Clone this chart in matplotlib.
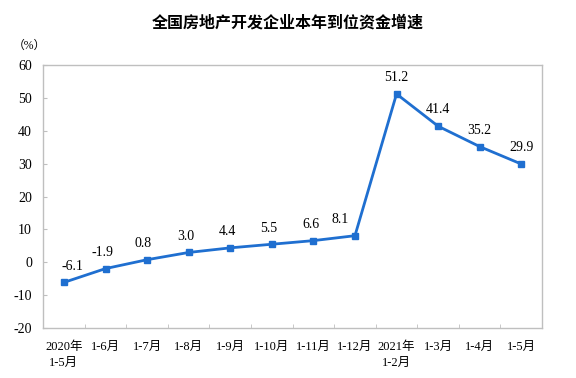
import matplotlib
matplotlib.use('Agg')
import matplotlib.pyplot as plt
import numpy as np

# chart data
categories = ['2020年\n1-5月', '1-6月', '1-7月', '1-8月', '1-9月', '1-10月',
              '1-11月', '1-12月', '2021年\n1-2月', '1-3月', '1-4月', '1-5月']
values = [-6.1, -1.9, 0.8, 3.0, 4.4, 5.5, 6.6, 8.1, 51.2, 41.4, 35.2, 29.9]
yticks = [-20, -10, 0, 10, 20, 30, 40, 50, 60]

# horizontal nudge of value labels (points), to keep them clear of the line
label_dx = [6, -2, -3, -2, -2, -2, -2, -11, 0, 0, 0, 0]

plt.rcParams['font.family'] = ['Liberation Serif', 'Noto Sans CJK SC', 'DejaVu Sans']

fig = plt.figure(figsize=(5.76, 3.78), dpi=100)
ax = fig.add_axes([0.075, 0.132, 0.866, 0.696])

x = np.arange(len(categories))
ax.plot(x, values, color='#1F6FD0', lw=2, marker='s', ms=4.5, zorder=3)

for xi, v, dx in zip(x, values, label_dx):
    ax.annotate('%.1f' % v, (xi, v), xytext=(dx, 7), textcoords='offset points',
                ha='center', va='bottom', fontsize=10)

ax.set_xlim(-0.5, len(categories) - 0.5)
ax.set_ylim(-20, 60)
ax.set_yticks(yticks)
ax.set_yticklabels([str(t) for t in yticks], fontsize=10)
ax.tick_params(axis='y', direction='in', length=3, color='#bfbfbf', pad=8)

# category labels centered, ticks at boundaries
ax.set_xticks(x)
ax.set_xticklabels(categories, fontsize=9, linespacing=1.5)
ax.set_xticks(np.arange(0.5, len(categories) - 0.5, 1), minor=True)
ax.tick_params(axis='x', which='major', length=0, pad=9)
ax.tick_params(axis='x', which='minor', direction='in', length=3, color='#bfbfbf')

for s in ax.spines.values():
    s.set_color('#bfbfbf')
    s.set_linewidth(1)

fig.text(0.5, 0.94, '全国房地产开发企业本年到位资金增速', ha='center', va='center',
         fontsize=11.5, fontweight='bold', family='Noto Sans CJK SC')
fig.text(0.022, 0.88, '（%）', ha='left', va='center', fontsize=8.5)

fig.savefig('out.png', dpi=100)
